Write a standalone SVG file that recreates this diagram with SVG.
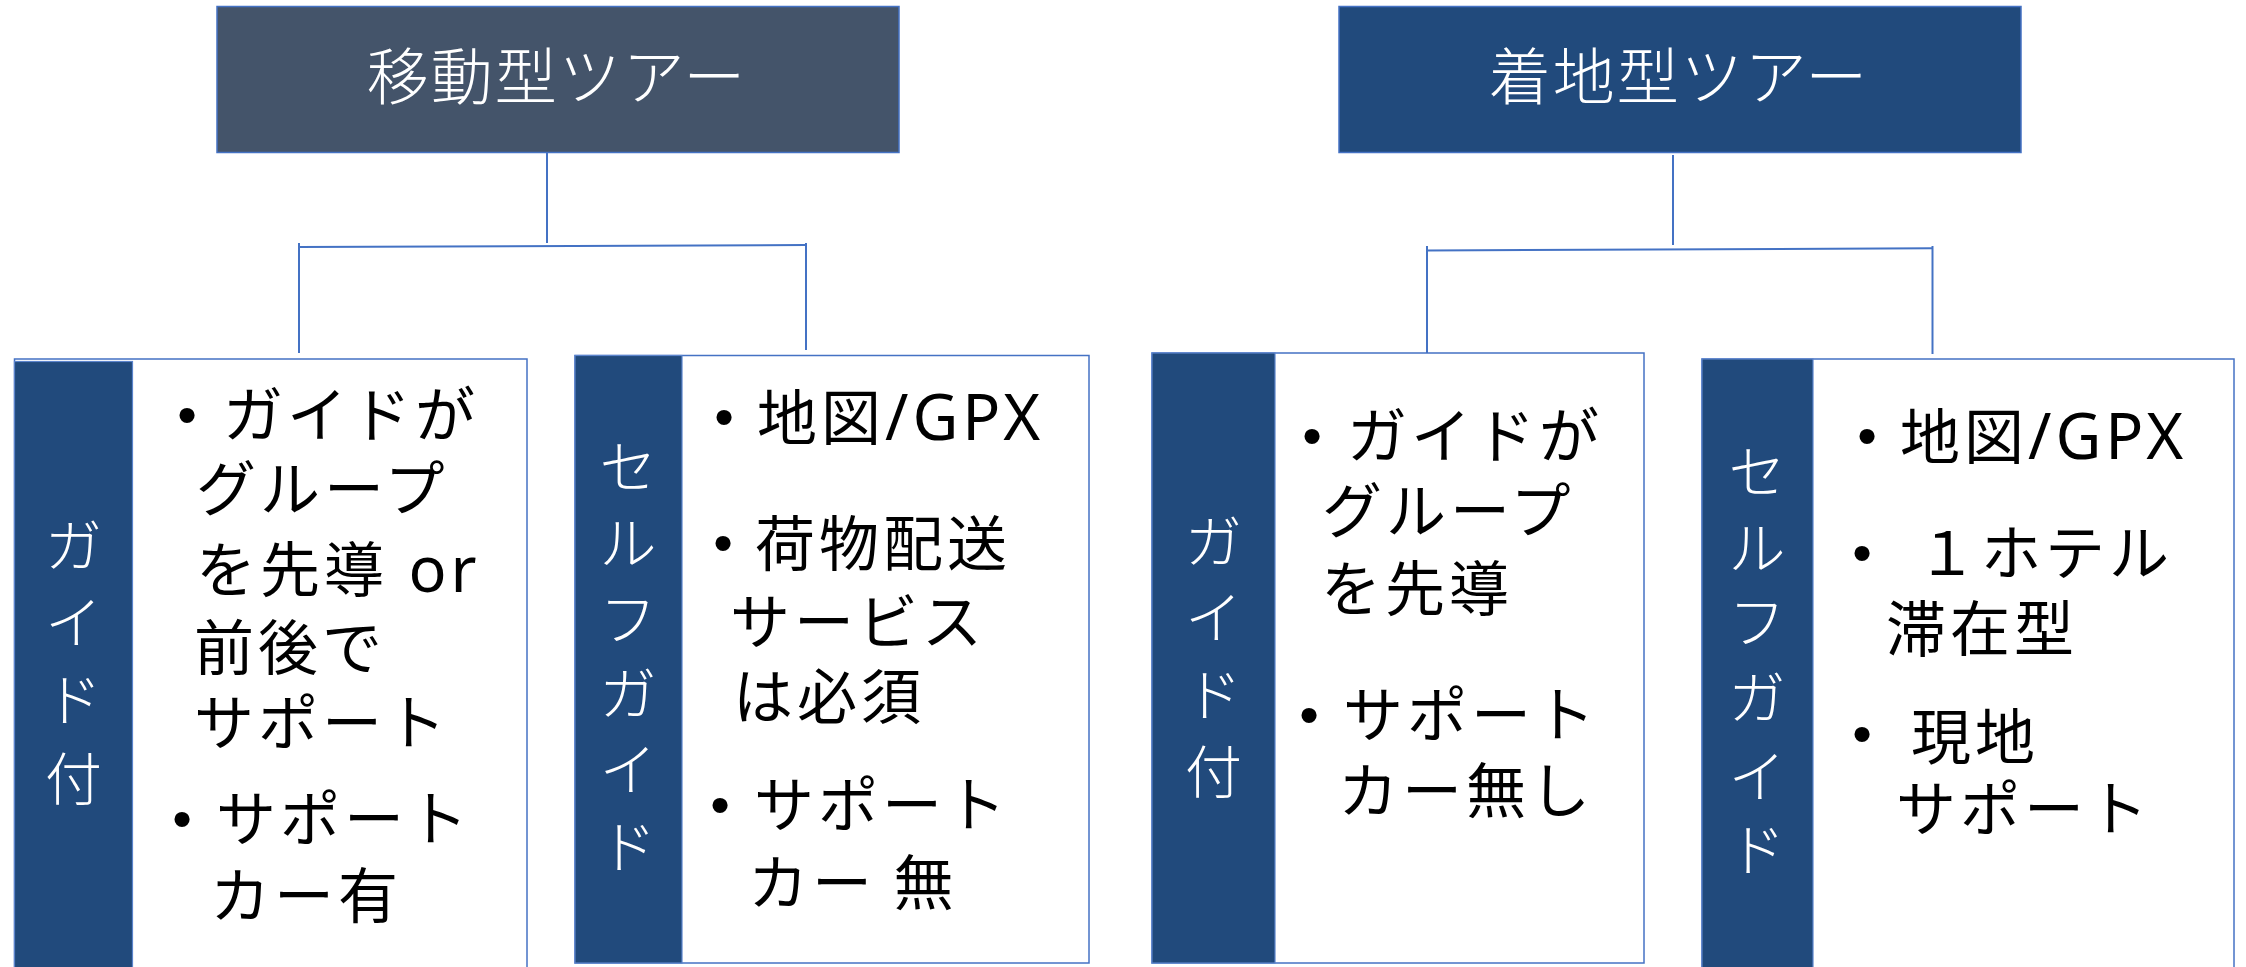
<svg xmlns="http://www.w3.org/2000/svg" width="2246" height="967" viewBox="0 0 2246 967">
<style>
  .box { fill: #ffffff; stroke: #4472C4; stroke-width: 1.5; }
  .side { fill: #214A7C; stroke: #5B84CC; stroke-width: 1.2; }
  .head1 { fill: #44546A; stroke: #4472C4; stroke-width: 1.5; }
  .head2 { fill: #214A7C; stroke: #4472C4; stroke-width: 1.5; }
  .htxt { font-family: "Noto Sans CJK JP", "Noto Sans", sans-serif; font-size: 62px; font-weight: 300; fill: #ffffff; letter-spacing: 2px; text-anchor: middle; }
  .stxt { font-family: "Noto Sans CJK JP", "Noto Sans", sans-serif; font-size: 57px; font-weight: 300; fill: #ffffff; text-anchor: middle; }
  .ctxt { font-family: "Noto Sans CJK JP", "Noto Sans", sans-serif; font-size: 60px; fill: #000000; letter-spacing: 4px; }
  .lat { font-family: "Noto Sans", "Liberation Sans", sans-serif; font-size: 63px; letter-spacing: 4px; }
  .bul { font-family: "Liberation Sans", Arial, sans-serif; font-size: 56px; fill: #000000; text-anchor: middle; }
  .conn { stroke: #4472C4; stroke-width: 2; fill: none; }
</style>

<g id="connectors">
  <line class="conn" x1="547" y1="153" x2="547" y2="243"/>
  <line class="conn" x1="299" y1="247" x2="806" y2="245" stroke-width="2.5"/>
  <line class="conn" x1="299" y1="243" x2="299" y2="353"/>
  <line class="conn" x1="806" y1="243" x2="806" y2="350"/>
  <line class="conn" x1="1673" y1="155" x2="1673" y2="245"/>
  <line class="conn" x1="1427" y1="250.5" x2="1932.5" y2="248.3" stroke-width="2.5"/>
  <line class="conn" x1="1427" y1="246" x2="1427" y2="357"/>
  <line class="conn" x1="1932.5" y1="246" x2="1932.5" y2="354"/>
</g>

<g id="node-idou">
  <rect class="head1" x="217" y="6.5" width="682" height="146"/>
  <text class="htxt" x="557" y="100">移動型ツアー</text>
</g>

<g id="node-chakuchi">
  <rect class="head2" x="1339" y="6.5" width="682" height="146"/>
  <text class="htxt" x="1679" y="100">着地型ツアー</text>
</g>

<g id="node-idou-guide">
  <rect class="box" x="14.5" y="359" width="512.5" height="620"/>
  <rect class="side" x="14.5" y="361.5" width="118" height="620"/>
  <text class="stxt" x="73.5"><tspan x="73.5" y="567">ガ</tspan><tspan x="73.5" y="644">イ</tspan><tspan x="73.5" y="721">ド</tspan><tspan x="73.5" y="800">付</tspan></text>
  <text class="bul" x="187" y="434">•</text>
  <text class="ctxt" x="223" y="437">ガイドが</text>
  <text class="ctxt" x="196" y="511">グループ</text>
  <text class="ctxt" x="196" y="592">を先導<tspan class="lat" font-size="61" letter-spacing="0"> or</tspan></text>
  <text class="ctxt" x="194" y="670">前後で</text>
  <text class="ctxt" x="194" y="745">サポート</text>
  <text class="bul" x="182" y="838">•</text>
  <text class="ctxt" x="216" y="841">サポート</text>
  <text class="ctxt" x="210" y="918">カー有</text>
</g>

<g id="node-idou-self">
  <rect class="box" x="575" y="355.5" width="514" height="607.5"/>
  <rect class="side" x="575" y="355.5" width="107" height="607.5"/>
  <text class="stxt" x="628"><tspan x="628" y="488">セ</tspan><tspan x="628" y="564">ル</tspan><tspan x="628" y="640">フ</tspan><tspan x="628" y="715">ガ</tspan><tspan x="628" y="791">イ</tspan><tspan x="628" y="868">ド</tspan></text>
  <text class="bul" x="724" y="436">•</text>
  <text class="ctxt" x="757" y="440">地図<tspan class="lat">/GPX</tspan></text>
  <text class="bul" x="723" y="562">•</text>
  <text class="ctxt" x="755" y="566">荷物配送</text>
  <text class="ctxt" x="730" y="644">サービス</text>
  <text class="ctxt" x="733" y="719">は必須</text>
  <text class="bul" x="720" y="824">•</text>
  <text class="ctxt" x="754" y="827">サポート</text>
  <text class="ctxt" x="748" y="905">カー 無</text>
</g>

<g id="node-chakuchi-guide">
  <rect class="box" x="1152" y="353" width="492" height="610"/>
  <rect class="side" x="1152" y="353" width="123" height="610"/>
  <text class="stxt" x="1213.5"><tspan x="1213.5" y="563">ガ</tspan><tspan x="1213.5" y="639">イ</tspan><tspan x="1213.5" y="716">ド</tspan><tspan x="1213.5" y="793">付</tspan></text>
  <text class="bul" x="1312" y="455">•</text>
  <text class="ctxt" x="1347" y="458">ガイドが</text>
  <text class="ctxt" x="1322" y="533">グループ</text>
  <text class="ctxt" x="1321" y="611">を先導</text>
  <text class="bul" x="1309" y="734">•</text>
  <text class="ctxt" x="1343" y="737">サポート</text>
  <text class="ctxt" x="1338" y="813">カー無し</text>
</g>

<g id="node-chakuchi-self">
  <rect class="box" x="1702" y="359" width="532" height="620"/>
  <rect class="side" x="1702" y="359" width="111" height="620"/>
  <text class="stxt" x="1757"><tspan x="1757" y="493">セ</tspan><tspan x="1757" y="569">ル</tspan><tspan x="1757" y="643">フ</tspan><tspan x="1757" y="719">ガ</tspan><tspan x="1757" y="798">イ</tspan><tspan x="1757" y="871">ド</tspan></text>
  <text class="bul" x="1867" y="455">•</text>
  <text class="ctxt" x="1900" y="459">地図<tspan class="lat">/GPX</tspan></text>
  <text class="bul" x="1862" y="572">•</text>
  <text class="ctxt" x="1917" y="575">１ホテル</text>
  <text class="ctxt" x="1886" y="651">滞在型</text>
  <text class="bul" x="1862" y="753">•</text>
  <text class="ctxt" x="1911" y="759">現地</text>
  <text class="ctxt" x="1896" y="831">サポート</text>
</g>
</svg>
